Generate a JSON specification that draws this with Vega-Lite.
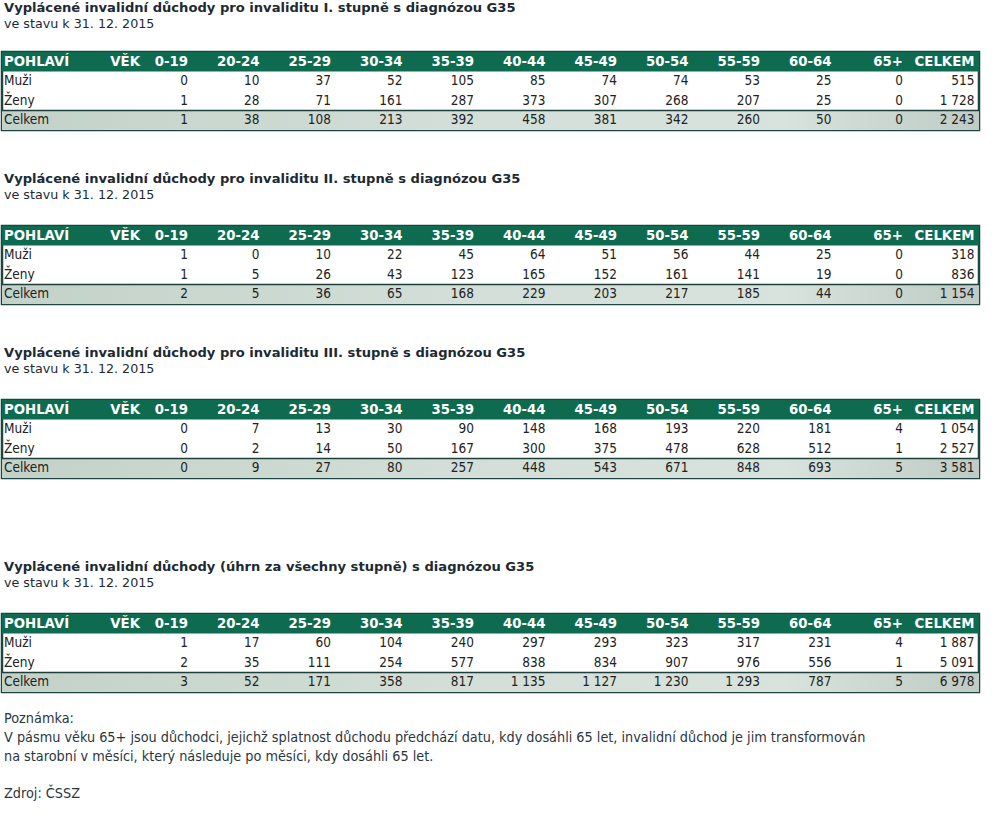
{
  "$schema": "https://vega.github.io/schema/vega-lite/v6.json",
  "background": "white",
  "padding": {"left": 0, "top": 0, "right": 0, "bottom": 0},
  "datasets": {
    "rows": [
      {"row": "head", "col": "L", "label": "POHLAVÍ", "sub": "VĚK"},
      {"row": "Muži", "col": "L", "label": "Muži"},
      {"row": "Ženy", "col": "L", "label": "Ženy"},
      {"row": "Celkem", "col": "L", "label": "Celkem"}
    ],
    "cols": [
      {"col": "0-19"}, {"col": "20-24"}, {"col": "25-29"}, {"col": "30-34"}, {"col": "35-39"}, {"col": "40-44"},
      {"col": "45-49"}, {"col": "50-54"}, {"col": "55-59"}, {"col": "60-64"}, {"col": "65+"}, {"col": "CELKEM"}
    ],
    "wide": [
      {"t": 1, "row": "Muži", "0-19": 0, "20-24": 10, "25-29": 37, "30-34": 52, "35-39": 105, "40-44": 85, "45-49": 74, "50-54": 74, "55-59": 53, "60-64": 25, "65+": 0, "CELKEM": 515},
      {"t": 1, "row": "Ženy", "0-19": 1, "20-24": 28, "25-29": 71, "30-34": 161, "35-39": 287, "40-44": 373, "45-49": 307, "50-54": 268, "55-59": 207, "60-64": 25, "65+": 0, "CELKEM": 1728},
      {"t": 1, "row": "Celkem", "0-19": 1, "20-24": 38, "25-29": 108, "30-34": 213, "35-39": 392, "40-44": 458, "45-49": 381, "50-54": 342, "55-59": 260, "60-64": 50, "65+": 0, "CELKEM": 2243},
      {"t": 2, "row": "Muži", "0-19": 1, "20-24": 0, "25-29": 10, "30-34": 22, "35-39": 45, "40-44": 64, "45-49": 51, "50-54": 56, "55-59": 44, "60-64": 25, "65+": 0, "CELKEM": 318},
      {"t": 2, "row": "Ženy", "0-19": 1, "20-24": 5, "25-29": 26, "30-34": 43, "35-39": 123, "40-44": 165, "45-49": 152, "50-54": 161, "55-59": 141, "60-64": 19, "65+": 0, "CELKEM": 836},
      {"t": 2, "row": "Celkem", "0-19": 2, "20-24": 5, "25-29": 36, "30-34": 65, "35-39": 168, "40-44": 229, "45-49": 203, "50-54": 217, "55-59": 185, "60-64": 44, "65+": 0, "CELKEM": 1154},
      {"t": 3, "row": "Muži", "0-19": 0, "20-24": 7, "25-29": 13, "30-34": 30, "35-39": 90, "40-44": 148, "45-49": 168, "50-54": 193, "55-59": 220, "60-64": 181, "65+": 4, "CELKEM": 1054},
      {"t": 3, "row": "Ženy", "0-19": 0, "20-24": 2, "25-29": 14, "30-34": 50, "35-39": 167, "40-44": 300, "45-49": 375, "50-54": 478, "55-59": 628, "60-64": 512, "65+": 1, "CELKEM": 2527},
      {"t": 3, "row": "Celkem", "0-19": 0, "20-24": 9, "25-29": 27, "30-34": 80, "35-39": 257, "40-44": 448, "45-49": 543, "50-54": 671, "55-59": 848, "60-64": 693, "65+": 5, "CELKEM": 3581},
      {"t": 4, "row": "Muži", "0-19": 1, "20-24": 17, "25-29": 60, "30-34": 104, "35-39": 240, "40-44": 297, "45-49": 293, "50-54": 323, "55-59": 317, "60-64": 231, "65+": 4, "CELKEM": 1887},
      {"t": 4, "row": "Ženy", "0-19": 2, "20-24": 35, "25-29": 111, "30-34": 254, "35-39": 577, "40-44": 838, "45-49": 834, "50-54": 907, "55-59": 976, "60-64": 556, "65+": 1, "CELKEM": 5091},
      {"t": 4, "row": "Celkem", "0-19": 3, "20-24": 52, "25-29": 171, "30-34": 358, "35-39": 817, "40-44": 1135, "45-49": 1127, "50-54": 1230, "55-59": 1293, "60-64": 787, "65+": 5, "CELKEM": 6978}
    ]
  },
  "title": {
    "text": ["Poznámka:", "V pásmu věku 65+ jsou důchodci, jejichž splatnost důchodu předchází datu, kdy dosáhli 65 let, invalidní důchod je jim transformován", "na starobní v měsíci, který následuje po měsíci, kdy dosáhli 65 let."],
    "subtitle": "Zdroj: ČSSZ",
    "orient": "bottom", "anchor": "start", "frame": "group",
    "font": "DejaVu Sans Condensed, Liberation Sans", "fontSize": 14.3, "fontWeight": "normal", "color": "#2a3640",
    "subtitleFont": "DejaVu Sans Condensed, Liberation Sans", "subtitleFontSize": 14.3, "subtitleColor": "#2a3640", "subtitlePadding": 22,
    "lineHeight": 19, "offset": 19, "dx": 2
  },
  "spacing": 79,
  "vconcat": [
    {
      "spacing": 39,
      "vconcat": [
        {
          "width": 977, "height": 78,
          "title": {"text": "Vyplácené invalidní důchody pro invaliditu I. stupně s diagnózou G35", "subtitle": "ve stavu k 31. 12. 2015", "offset": 21},
          "encoding": {"y": {"field": "row", "type": "nominal", "scale": {"type": "band", "domain": ["head", "Muži", "Ženy", "Celkem"], "paddingInner": 0, "paddingOuter": 0}, "axis": null}},
          "layer": [
            {"data": {"name": "rows"}, "transform": [{"filter": "datum.row === 'head'"}], "mark": {"type": "rect", "color": "#0f6b4f"}},
            {"data": {"name": "rows"}, "transform": [{"filter": "datum.row === 'Celkem'"}], "mark": {"type": "rect", "color": {"gradient": "linear", "x1": 0, "x2": 1, "y1": 0, "y2": 0, "stops": [{"offset": 0, "color": "#c3d2c9"}, {"offset": 0.45, "color": "#d2ded7"}, {"offset": 0.8, "color": "#d8e3dd"}, {"offset": 1, "color": "#bfcbc5"}]}}},
            {"data": {"name": "rows"}, "transform": [{"filter": "datum.row === 'Celkem'"}], "mark": {"type": "rule", "color": "#1f3f3b", "strokeWidth": 1.5}, "encoding": {"y": {"field": "row", "type": "nominal", "bandPosition": 0, "axis": null}}},
            {"data": {"name": "rows"}, "transform": [{"filter": "datum.row !== 'head'"}], "mark": {"type": "text", "align": "left", "dx": -41, "font": "DejaVu Sans Condensed, Liberation Sans", "fontSize": 13.5, "color": "#222222"}, "encoding": {"x": {"field": "col", "type": "nominal", "bandPosition": 0, "scale": {"type": "band", "domain": ["L", "0-19", "20-24", "25-29", "30-34", "35-39", "40-44", "45-49", "50-54", "55-59", "60-64", "65+", "CELKEM"], "paddingInner": 0, "paddingOuter": 0.332, "align": 0.905}, "axis": null}, "text": {"field": "label"}}},
            {"data": {"name": "rows"}, "transform": [{"filter": "datum.row === 'head'"}], "mark": {"type": "text", "align": "left", "dx": -41, "font": "DejaVu Sans", "fontWeight": "bold", "fontSize": 13.3, "color": "white"}, "encoding": {"x": {"field": "col", "type": "nominal", "bandPosition": 0, "axis": null}, "text": {"field": "label"}}},
            {"data": {"name": "rows"}, "transform": [{"filter": "datum.row === 'head'"}], "mark": {"type": "text", "align": "right", "dx": 23.5, "font": "DejaVu Sans", "fontWeight": "bold", "fontSize": 13.3, "color": "white"}, "encoding": {"x": {"field": "col", "type": "nominal", "bandPosition": 1, "axis": null}, "text": {"field": "sub"}}},
            {"data": {"name": "cols"}, "mark": {"type": "text", "align": "right", "font": "DejaVu Sans", "fontWeight": "bold", "fontSize": 13.3, "color": "white"}, "encoding": {"x": {"field": "col", "type": "nominal", "bandPosition": 1, "axis": null}, "y": {"datum": "head", "type": "nominal", "axis": null}, "text": {"field": "col"}}},
            {"data": {"name": "wide"}, "transform": [{"filter": "datum.t === 1"}, {"fold": ["0-19", "20-24", "25-29", "30-34", "35-39", "40-44", "45-49", "50-54", "55-59", "60-64", "65+", "CELKEM"], "as": ["col", "v"]}], "mark": {"type": "text", "align": "right", "font": "DejaVu Sans Condensed, Liberation Sans", "fontSize": 13.5, "color": "#222222"}, "encoding": {"x": {"field": "col", "type": "nominal", "bandPosition": 1, "axis": null}, "text": {"field": "v", "type": "quantitative", "format": ",d"}}}
          ]
        },
        {
          "width": 977, "height": 78,
          "title": {"text": "Vyplácené invalidní důchody pro invaliditu II. stupně s diagnózou G35", "subtitle": "ve stavu k 31. 12. 2015"},
          "encoding": {"y": {"field": "row", "type": "nominal", "scale": {"type": "band", "domain": ["head", "Muži", "Ženy", "Celkem"], "paddingInner": 0, "paddingOuter": 0}, "axis": null}},
          "layer": [
            {"data": {"name": "rows"}, "transform": [{"filter": "datum.row === 'head'"}], "mark": {"type": "rect", "color": "#0f6b4f"}},
            {"data": {"name": "rows"}, "transform": [{"filter": "datum.row === 'Celkem'"}], "mark": {"type": "rect", "color": {"gradient": "linear", "x1": 0, "x2": 1, "y1": 0, "y2": 0, "stops": [{"offset": 0, "color": "#c3d2c9"}, {"offset": 0.45, "color": "#d2ded7"}, {"offset": 0.8, "color": "#d8e3dd"}, {"offset": 1, "color": "#bfcbc5"}]}}},
            {"data": {"name": "rows"}, "transform": [{"filter": "datum.row === 'Celkem'"}], "mark": {"type": "rule", "color": "#1f3f3b", "strokeWidth": 1.5}, "encoding": {"y": {"field": "row", "type": "nominal", "bandPosition": 0, "axis": null}}},
            {"data": {"name": "rows"}, "transform": [{"filter": "datum.row !== 'head'"}], "mark": {"type": "text", "align": "left", "dx": -41, "font": "DejaVu Sans Condensed, Liberation Sans", "fontSize": 13.5, "color": "#222222"}, "encoding": {"x": {"field": "col", "type": "nominal", "bandPosition": 0, "scale": {"type": "band", "domain": ["L", "0-19", "20-24", "25-29", "30-34", "35-39", "40-44", "45-49", "50-54", "55-59", "60-64", "65+", "CELKEM"], "paddingInner": 0, "paddingOuter": 0.332, "align": 0.905}, "axis": null}, "text": {"field": "label"}}},
            {"data": {"name": "rows"}, "transform": [{"filter": "datum.row === 'head'"}], "mark": {"type": "text", "align": "left", "dx": -41, "font": "DejaVu Sans", "fontWeight": "bold", "fontSize": 13.3, "color": "white"}, "encoding": {"x": {"field": "col", "type": "nominal", "bandPosition": 0, "axis": null}, "text": {"field": "label"}}},
            {"data": {"name": "rows"}, "transform": [{"filter": "datum.row === 'head'"}], "mark": {"type": "text", "align": "right", "dx": 23.5, "font": "DejaVu Sans", "fontWeight": "bold", "fontSize": 13.3, "color": "white"}, "encoding": {"x": {"field": "col", "type": "nominal", "bandPosition": 1, "axis": null}, "text": {"field": "sub"}}},
            {"data": {"name": "cols"}, "mark": {"type": "text", "align": "right", "font": "DejaVu Sans", "fontWeight": "bold", "fontSize": 13.3, "color": "white"}, "encoding": {"x": {"field": "col", "type": "nominal", "bandPosition": 1, "axis": null}, "y": {"datum": "head", "type": "nominal", "axis": null}, "text": {"field": "col"}}},
            {"data": {"name": "wide"}, "transform": [{"filter": "datum.t === 2"}, {"fold": ["0-19", "20-24", "25-29", "30-34", "35-39", "40-44", "45-49", "50-54", "55-59", "60-64", "65+", "CELKEM"], "as": ["col", "v"]}], "mark": {"type": "text", "align": "right", "font": "DejaVu Sans Condensed, Liberation Sans", "fontSize": 13.5, "color": "#222222"}, "encoding": {"x": {"field": "col", "type": "nominal", "bandPosition": 1, "axis": null}, "text": {"field": "v", "type": "quantitative", "format": ",d"}}}
          ]
        },
        {
          "width": 977, "height": 78,
          "title": {"text": "Vyplácené invalidní důchody pro invaliditu III. stupně s diagnózou G35", "subtitle": "ve stavu k 31. 12. 2015"},
          "encoding": {"y": {"field": "row", "type": "nominal", "scale": {"type": "band", "domain": ["head", "Muži", "Ženy", "Celkem"], "paddingInner": 0, "paddingOuter": 0}, "axis": null}},
          "layer": [
            {"data": {"name": "rows"}, "transform": [{"filter": "datum.row === 'head'"}], "mark": {"type": "rect", "color": "#0f6b4f"}},
            {"data": {"name": "rows"}, "transform": [{"filter": "datum.row === 'Celkem'"}], "mark": {"type": "rect", "color": {"gradient": "linear", "x1": 0, "x2": 1, "y1": 0, "y2": 0, "stops": [{"offset": 0, "color": "#c3d2c9"}, {"offset": 0.45, "color": "#d2ded7"}, {"offset": 0.8, "color": "#d8e3dd"}, {"offset": 1, "color": "#bfcbc5"}]}}},
            {"data": {"name": "rows"}, "transform": [{"filter": "datum.row === 'Celkem'"}], "mark": {"type": "rule", "color": "#1f3f3b", "strokeWidth": 1.5}, "encoding": {"y": {"field": "row", "type": "nominal", "bandPosition": 0, "axis": null}}},
            {"data": {"name": "rows"}, "transform": [{"filter": "datum.row !== 'head'"}], "mark": {"type": "text", "align": "left", "dx": -41, "font": "DejaVu Sans Condensed, Liberation Sans", "fontSize": 13.5, "color": "#222222"}, "encoding": {"x": {"field": "col", "type": "nominal", "bandPosition": 0, "scale": {"type": "band", "domain": ["L", "0-19", "20-24", "25-29", "30-34", "35-39", "40-44", "45-49", "50-54", "55-59", "60-64", "65+", "CELKEM"], "paddingInner": 0, "paddingOuter": 0.332, "align": 0.905}, "axis": null}, "text": {"field": "label"}}},
            {"data": {"name": "rows"}, "transform": [{"filter": "datum.row === 'head'"}], "mark": {"type": "text", "align": "left", "dx": -41, "font": "DejaVu Sans", "fontWeight": "bold", "fontSize": 13.3, "color": "white"}, "encoding": {"x": {"field": "col", "type": "nominal", "bandPosition": 0, "axis": null}, "text": {"field": "label"}}},
            {"data": {"name": "rows"}, "transform": [{"filter": "datum.row === 'head'"}], "mark": {"type": "text", "align": "right", "dx": 23.5, "font": "DejaVu Sans", "fontWeight": "bold", "fontSize": 13.3, "color": "white"}, "encoding": {"x": {"field": "col", "type": "nominal", "bandPosition": 1, "axis": null}, "text": {"field": "sub"}}},
            {"data": {"name": "cols"}, "mark": {"type": "text", "align": "right", "font": "DejaVu Sans", "fontWeight": "bold", "fontSize": 13.3, "color": "white"}, "encoding": {"x": {"field": "col", "type": "nominal", "bandPosition": 1, "axis": null}, "y": {"datum": "head", "type": "nominal", "axis": null}, "text": {"field": "col"}}},
            {"data": {"name": "wide"}, "transform": [{"filter": "datum.t === 3"}, {"fold": ["0-19", "20-24", "25-29", "30-34", "35-39", "40-44", "45-49", "50-54", "55-59", "60-64", "65+", "CELKEM"], "as": ["col", "v"]}], "mark": {"type": "text", "align": "right", "font": "DejaVu Sans Condensed, Liberation Sans", "fontSize": 13.5, "color": "#222222"}, "encoding": {"x": {"field": "col", "type": "nominal", "bandPosition": 1, "axis": null}, "text": {"field": "v", "type": "quantitative", "format": ",d"}}}
          ]
        }
      ]
    },
    {
      "width": 977, "height": 78,
      "title": {"text": "Vyplácené invalidní důchody (úhrn za všechny stupně) s diagnózou G35", "subtitle": "ve stavu k 31. 12. 2015"},
      "encoding": {"y": {"field": "row", "type": "nominal", "scale": {"type": "band", "domain": ["head", "Muži", "Ženy", "Celkem"], "paddingInner": 0, "paddingOuter": 0}, "axis": null}},
      "layer": [
        {"data": {"name": "rows"}, "transform": [{"filter": "datum.row === 'head'"}], "mark": {"type": "rect", "color": "#0f6b4f"}},
        {"data": {"name": "rows"}, "transform": [{"filter": "datum.row === 'Celkem'"}], "mark": {"type": "rect", "color": {"gradient": "linear", "x1": 0, "x2": 1, "y1": 0, "y2": 0, "stops": [{"offset": 0, "color": "#c3d2c9"}, {"offset": 0.45, "color": "#d2ded7"}, {"offset": 0.8, "color": "#d8e3dd"}, {"offset": 1, "color": "#bfcbc5"}]}}},
        {"data": {"name": "rows"}, "transform": [{"filter": "datum.row === 'Celkem'"}], "mark": {"type": "rule", "color": "#1f3f3b", "strokeWidth": 1.5}, "encoding": {"y": {"field": "row", "type": "nominal", "bandPosition": 0, "axis": null}}},
        {"data": {"name": "rows"}, "transform": [{"filter": "datum.row !== 'head'"}], "mark": {"type": "text", "align": "left", "dx": -41, "font": "DejaVu Sans Condensed, Liberation Sans", "fontSize": 13.5, "color": "#222222"}, "encoding": {"x": {"field": "col", "type": "nominal", "bandPosition": 0, "scale": {"type": "band", "domain": ["L", "0-19", "20-24", "25-29", "30-34", "35-39", "40-44", "45-49", "50-54", "55-59", "60-64", "65+", "CELKEM"], "paddingInner": 0, "paddingOuter": 0.332, "align": 0.905}, "axis": null}, "text": {"field": "label"}}},
        {"data": {"name": "rows"}, "transform": [{"filter": "datum.row === 'head'"}], "mark": {"type": "text", "align": "left", "dx": -41, "font": "DejaVu Sans", "fontWeight": "bold", "fontSize": 13.3, "color": "white"}, "encoding": {"x": {"field": "col", "type": "nominal", "bandPosition": 0, "axis": null}, "text": {"field": "label"}}},
        {"data": {"name": "rows"}, "transform": [{"filter": "datum.row === 'head'"}], "mark": {"type": "text", "align": "right", "dx": 23.5, "font": "DejaVu Sans", "fontWeight": "bold", "fontSize": 13.3, "color": "white"}, "encoding": {"x": {"field": "col", "type": "nominal", "bandPosition": 1, "axis": null}, "text": {"field": "sub"}}},
        {"data": {"name": "cols"}, "mark": {"type": "text", "align": "right", "font": "DejaVu Sans", "fontWeight": "bold", "fontSize": 13.3, "color": "white"}, "encoding": {"x": {"field": "col", "type": "nominal", "bandPosition": 1, "axis": null}, "y": {"datum": "head", "type": "nominal", "axis": null}, "text": {"field": "col"}}},
        {"data": {"name": "wide"}, "transform": [{"filter": "datum.t === 4"}, {"fold": ["0-19", "20-24", "25-29", "30-34", "35-39", "40-44", "45-49", "50-54", "55-59", "60-64", "65+", "CELKEM"], "as": ["col", "v"]}], "mark": {"type": "text", "align": "right", "font": "DejaVu Sans Condensed, Liberation Sans", "fontSize": 13.5, "color": "#222222"}, "encoding": {"x": {"field": "col", "type": "nominal", "bandPosition": 1, "axis": null}, "text": {"field": "v", "type": "quantitative", "format": ",d"}}}
      ]
    }
  ],
  "config": {
    "locale": {"number": {"decimal": ",", "thousands": "\u00a0", "grouping": [3], "currency": ["", " Kč"]}},
    "view": {"stroke": "#1d4642", "strokeWidth": 2.5},
    "title": {
      "anchor": "start", "frame": "group", "dx": 2, "offset": 24,
      "font": "DejaVu Sans", "fontSize": 13.1, "fontWeight": "bold", "color": "#1c2a33",
      "subtitleFont": "DejaVu Sans", "subtitleFontSize": 12.7, "subtitleColor": "#1c2a33", "subtitlePadding": 3
    }
  }
}
